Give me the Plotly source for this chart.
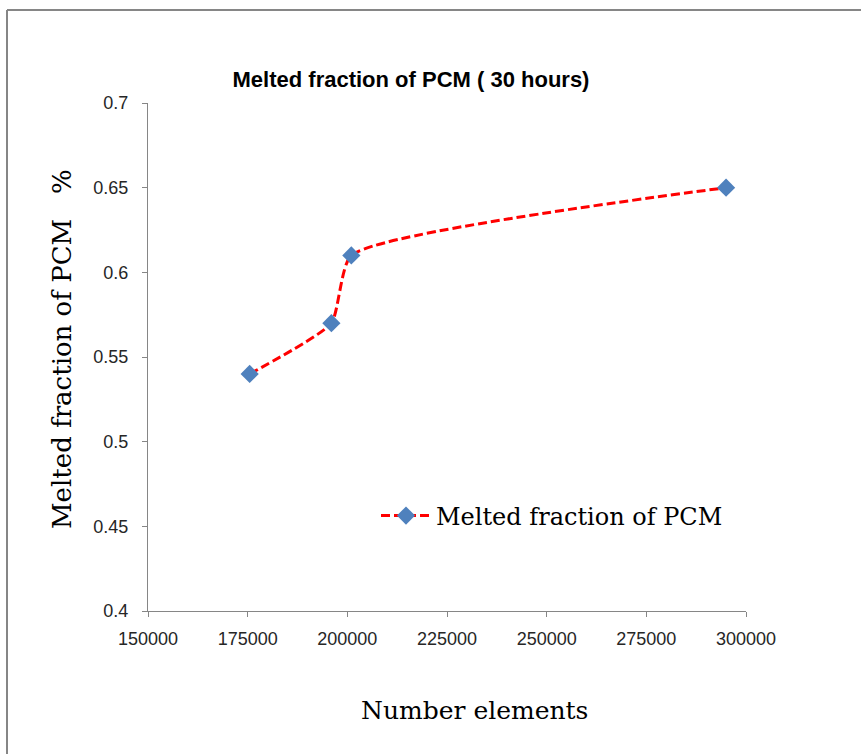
import plotly.graph_objects as go

elements = [175500, 196000, 201000, 295000]
melted = [0.54, 0.57, 0.61, 0.65]
x_ticks = [150000, 175000, 200000, 225000, 250000, 275000, 300000]
y_ticks = [0.4, 0.45, 0.5, 0.55, 0.6, 0.65, 0.7]

fig = go.Figure()
fig.add_trace(go.Scatter(
    x=elements, y=melted, mode="lines+markers",
    name="Melted fraction of PCM",
    line=dict(color="#FF0000", width=3, dash="9px,4px", shape="spline", smoothing=0.5),
    marker=dict(symbol="diamond", size=14, color="#4F81BD"),
))

tick_font = dict(family="Liberation Sans, sans-serif", size=18, color="#262626")
axis_common = dict(showgrid=False, zeroline=False, showline=True, linecolor="#868686",
                   linewidth=1, ticks="outside", ticklen=5, tickcolor="#868686",
                   tickfont=tick_font)
serif = "DejaVu Serif, serif"

PL, PR, PT, PB = 148, 746, 103, 611

def px_x(p):
    return (p - PL) / (PR - PL)

def px_y(p):
    return (PB - p) / (PB - PT)

fig.update_layout(
    width=861, height=754,
    margin=dict(l=PL, r=861 - PR, t=PT, b=754 - PB),
    paper_bgcolor="white", plot_bgcolor="white",
    title=dict(text="<b>Melted fraction of PCM ( 30 hours)</b>", x=411/861, xanchor="center",
               y=1 - 79/754, yanchor="middle",
               font=dict(family="Liberation Sans, sans-serif", size=22, color="black")),
    xaxis=dict(range=[150000, 300000], tickvals=x_ticks, ticktext=[str(v) for v in x_ticks],
               ticklabelstandoff=6, **axis_common),
    yaxis=dict(range=[0.4, 0.7], tickvals=y_ticks, ticktext=[f"{v:g}" for v in y_ticks],
               ticklabelstandoff=10, **axis_common),
    legend=dict(x=px_x(376), y=px_y(516), xanchor="left", yanchor="middle",
                bgcolor="rgba(0,0,0,0)", itemwidth=50,
                font=dict(family=serif, size=24, color="black")),
    showlegend=True,
)

fig.add_annotation(text="Number elements", xref="paper", yref="paper",
                   x=px_x(474), y=px_y(710), xanchor="center", yanchor="middle",
                   showarrow=False, font=dict(family=serif, size=25, color="black"))
fig.add_annotation(text="Melted fraction of PCM   %", xref="paper", yref="paper",
                   x=px_x(62), y=px_y(349), xanchor="center", yanchor="middle",
                   textangle=-90, showarrow=False,
                   font=dict(family=serif, size=26, color="black"))

border = dict(color="#868686", width=2)
fig.add_shape(type="line", xref="paper", yref="paper",
              x0=px_x(7), x1=px_x(861), y0=px_y(10), y1=px_y(10), line=border, layer="below")
fig.add_shape(type="line", xref="paper", yref="paper",
              x0=px_x(7), x1=px_x(7), y0=px_y(754), y1=px_y(10), line=border, layer="below")

fig.write_html("out.html")
